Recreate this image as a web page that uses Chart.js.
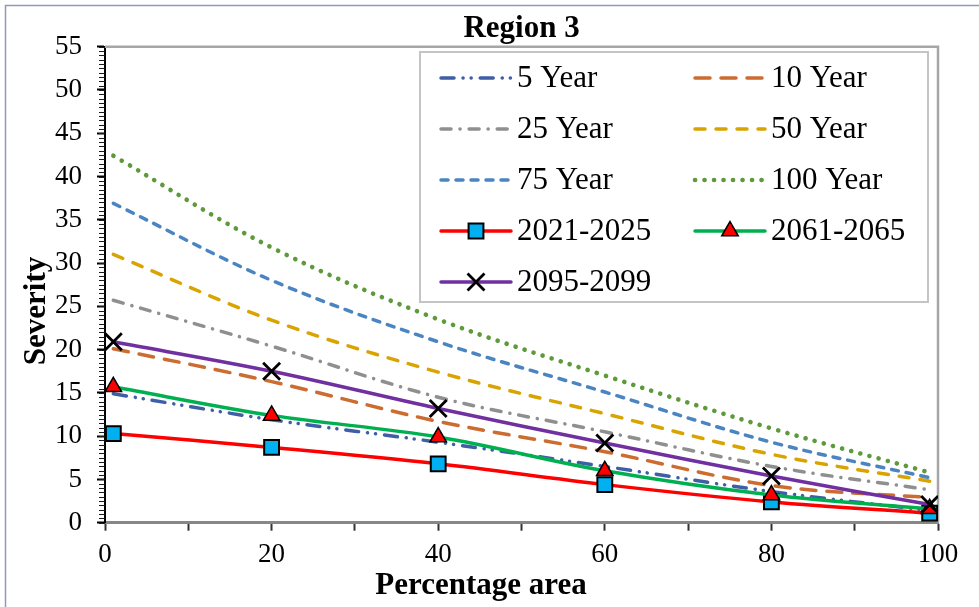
<!DOCTYPE html>
<html>
<head>
<meta charset="utf-8">
<title>Region 3</title>
<script src="https://cdn.jsdelivr.net/npm/chart.js@4.4.1/dist/chart.umd.min.js"></script>
<style>
  html, body { margin: 0; padding: 0; background: #fff; }
  canvas { display: block; }
</style>
</head>
<body>
<canvas id="severityChart" width="979" height="607"></canvas>
<script>
// percentage of area (x) and severity per return period / projection window
const percentArea = [1, 20, 40, 60, 80, 99];

const year5   = [14.9, 11.9, 9.3, 6.5, 3.6, 1.4];
const year10  = [20.1, 16.3, 11.7, 8.2, 4.3, 2.9];
const year25  = [25.7, 20.4, 14.5, 10.5, 6.5, 3.8];
const year50  = [31.0, 23.4, 17.4, 12.6, 7.9, 4.8];
const year75  = [36.9, 28.0, 20.9, 15.1, 9.3, 5.2];
const year100 = [42.4, 31.8, 23.5, 17.0, 10.9, 5.8];

const p2021 = [10.3, 8.7, 6.8, 4.4, 2.4, 1.1];
const p2061 = [15.7, 12.4, 9.9, 6.0, 3.2, 1.6];
const p2095 = [20.9, 17.5, 13.2, 9.2, 5.4, 2.1];

const xLabelTicks = [0, 20, 40, 60, 80, 100];
const yMax = 55;
const yMinorStep = 0.5;

const serif = '"Liberation Serif", "Times New Roman", serif';

const toPoints = vals => vals.map((v, i) => ({ x: percentArea[i], y: v }));

function dashed(label, vals, color, dash, width) {
  return {
    label, data: toPoints(vals),
    borderColor: color, borderWidth: width || 3.5,
    borderDash: dash, borderCapStyle: 'round',
    pointRadius: 0, tension: 0.35, fill: false
  };
}

function marked(label, vals, color, style, radius, fillColor, borderW) {
  return {
    label, data: toPoints(vals),
    borderColor: color, borderWidth: 3.5, borderCapStyle: 'round',
    pointStyle: style, pointRadius: radius,
    pointBackgroundColor: fillColor, pointBorderColor: '#000',
    pointBorderWidth: borderW, tension: 0.35, fill: false
  };
}

const datasets = [
  dashed('5 Year', year5, '#3E5EA6', [13, 9, 0.1, 8, 0.1, 9]),
  dashed('10 Year', year10, '#CC6C30', [15, 11]),
  dashed('25 Year', year25, '#8F8F8F', [10, 9, 0.1, 9]),
  dashed('50 Year', year50, '#D9A300', [10, 11]),
  dashed('75 Year', year75, '#4A85C2', [7, 8]),
  dashed('100 Year', year100, '#5E9A3C', [0.1, 9.4], 4.6),
  marked('2021-2025', p2021, '#FF0000', 'rect', 10.5, '#00B0F0', 2),
  marked('2061-2065', p2061, '#00B050', 'triangle', 9.5, '#FF0000', 1.5),
  marked('2095-2099', p2095, '#7030A0', 'crossRot', 12, '#000', 2.8)
];
// later series sit on top
datasets.forEach((ds, i) => { ds.order = datasets.length - i; });

const pageFrame = {
  id: 'pageFrame',
  beforeDraw(chart) {
    const ctx = chart.ctx;
    ctx.save();
    ctx.fillStyle = '#fff';
    ctx.fillRect(0, 0, chart.width, chart.height);
    ctx.strokeStyle = '#8C9DB5';
    ctx.lineWidth = 1.5;
    ctx.strokeRect(5.5, 5.5, chart.width + 20, chart.height + 20);
    ctx.restore();
  },
  beforeDatasetsDraw(chart) {
    const { ctx, chartArea: a } = chart;
    ctx.save();
    ctx.strokeStyle = '#A6A6A6';
    ctx.lineWidth = 2.5;
    ctx.beginPath();
    ctx.moveTo(a.left, a.top);
    ctx.lineTo(a.right, a.top);
    ctx.lineTo(a.right, a.bottom);
    ctx.stroke();
    ctx.restore();
  }
};

// short minor tick marks on the severity axis
const minorTicks = {
  id: 'minorTicks',
  afterDraw(chart) {
    const ctx = chart.ctx;
    const ys = chart.scales.y;
    const x = Math.round(chart.chartArea.left);
    ctx.save();
    ctx.strokeStyle = '#1a1a1a';
    ctx.lineWidth = 1;
    ctx.beginPath();
    for (let v = 0; v <= yMax + 1e-6; v += yMinorStep) {
      const py = Math.round(ys.getPixelForValue(v)) + 0.5;
      ctx.moveTo(x - 6, py);
      ctx.lineTo(x, py);
    }
    ctx.stroke();
    ctx.restore();
  }
};

const legendBox = {
  id: 'legendBox',
  afterDatasetsDraw(chart) {
    const ctx = chart.ctx;
    const left = 420, top = 52, right = 928, bottom = 302;
    ctx.save();
    ctx.fillStyle = '#fff';
    ctx.fillRect(left, top, right - left, bottom - top);
    ctx.strokeStyle = '#C4C4C4';
    ctx.lineWidth = 2;
    ctx.strokeRect(left, top, right - left, bottom - top);

    chart.data.datasets.forEach((ds, i) => {
      const col = i % 2, row = Math.floor(i / 2);
      const x0 = col ? 695 : 441, x1 = x0 + 70, y = 78 + row * 51;
      ctx.setLineDash(ds.borderDash || []);
      ctx.lineCap = ds.borderCapStyle || 'butt';
      ctx.lineWidth = ds.borderWidth;
      ctx.strokeStyle = ds.borderColor;
      ctx.beginPath();
      ctx.moveTo(x0, y);
      ctx.lineTo(x1, y);
      ctx.stroke();
      ctx.setLineDash([]);
      if (ds.pointRadius > 0) {
        ctx.lineCap = 'butt';
        ctx.fillStyle = ds.pointBackgroundColor;
        ctx.strokeStyle = ds.pointBorderColor;
        ctx.lineWidth = ds.pointBorderWidth;
        Chart.helpers.drawPoint(ctx, {
          pointStyle: ds.pointStyle, radius: ds.pointRadius,
          borderWidth: ds.pointBorderWidth, rotation: 0
        }, (x0 + x1) / 2, y);
      }
      ctx.fillStyle = '#000';
      ctx.font = '31px ' + serif;
      ctx.textAlign = 'left';
      ctx.textBaseline = 'middle';
      ctx.fillText(ds.label, x0 + 76, y + 1);
    });
    ctx.restore();
  }
};

// chart title and axis titles, placed the way the original layout has them
const chartTexts = {
  id: 'chartTexts',
  afterDraw(chart) {
    const ctx = chart.ctx;
    const a = chart.chartArea;
    ctx.save();
    ctx.fillStyle = '#000';
    ctx.textAlign = 'center';
    ctx.textBaseline = 'middle';
    ctx.font = 'bold 31px ' + serif;
    ctx.fillText('Region 3', (a.left + a.right) / 2, 29);
    ctx.fillText('Percentage area', 481, 586);
    ctx.translate(37, 311);
    ctx.rotate(-Math.PI / 2);
    ctx.fillText('Severity', 0, 0);
    ctx.restore();
  }
};

new Chart(document.getElementById('severityChart'), {
  type: 'line',
  data: { datasets },
  options: {
    responsive: false,
    animation: false,
    events: [],
    layout: { padding: { left: 0, right: 41, top: 46.7, bottom: 0 } },
    plugins: {
      legend: { display: false },
      tooltip: { enabled: false },
      title: { display: false }
    },
    scales: {
      x: {
        type: 'linear', position: 'bottom', min: 0, max: 100,
        afterFit: s => { s.height = 84.3; },
        border: { color: '#878787', width: 3 },
        grid: { drawOnChartArea: false, tickLength: 8, tickColor: '#333', tickWidth: 2 },
        ticks: {
          stepSize: 10, autoSkip: false, maxRotation: 0, padding: 8,
          color: '#000', font: { family: serif, size: 27 },
          callback: v => xLabelTicks.includes(v) ? String(v) : ''
        }
      },
      y: {
        type: 'linear', position: 'left', min: 0, max: yMax,
        afterFit: s => { s.width = 105; },
        border: { color: '#000', width: 2 },
        grid: { drawOnChartArea: false, tickLength: 8, tickColor: '#000', tickWidth: 2 },
        ticks: {
          stepSize: 5, autoSkip: false, padding: 15,
          color: '#000', font: { family: serif, size: 27 }
        }
      }
    }
  },
  plugins: [pageFrame, minorTicks, legendBox, chartTexts]
});
</script>
</body>
</html>
